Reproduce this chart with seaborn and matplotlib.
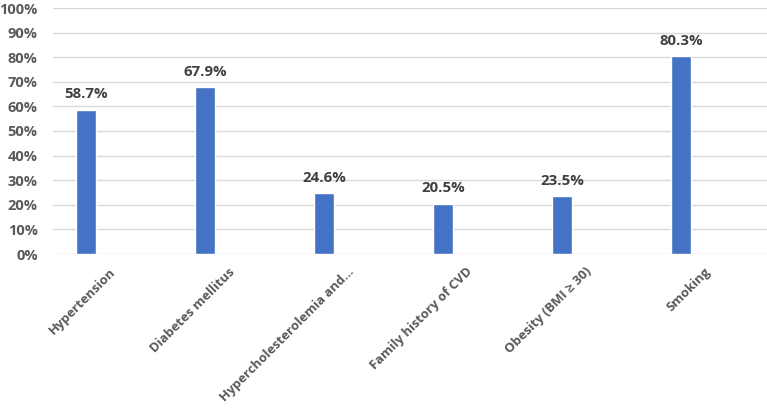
import matplotlib
matplotlib.use("Agg")
import matplotlib.pyplot as plt
import matplotlib.transforms as mtrans
import seaborn as sns
import pandas as pd
from matplotlib.ticker import MultipleLocator, PercentFormatter

categories = ["Hypertension", "Diabetes mellitus", "Hypercholesterolemia and...",
              "Family history of CVD", "Obesity (BMI \u2265 30)", "Smoking"]
values = [58.7, 67.9, 24.6, 20.5, 23.5, 80.3]
labels = ["58.7%", "67.9%", "24.6%", "20.5%", "23.5%", "80.3%"]

sns.set_theme(style="white")
plt.rcParams['font.family'] = ['Open Sans', 'DejaVu Sans']

df = pd.DataFrame({"cat": categories, "val": values})

fig = plt.figure(figsize=(7.67, 4.08), dpi=100)
ax = fig.add_axes([53/767, 1-254/408, (767-53)/767, (254-8)/408])
sns.barplot(data=df, x="cat", y="val", color="#4472C4", width=0.176, ax=ax, saturation=1)

ax.set_xlim(-(86-53)/119, (767-86)/119)
ax.set_ylim(0, 100)
ax.yaxis.set_major_locator(MultipleLocator(10))
ax.yaxis.set_major_formatter(PercentFormatter(decimals=0))
ax.grid(axis="y", color="#D9D9D9", linewidth=1)
ax.set_axisbelow(True)
for s in ax.spines.values():
    s.set_visible(False)
ax.tick_params(axis="both", length=0)
ax.set_xlabel("")
ax.set_ylabel("")

for t in ax.get_yticklabels():
    t.set_fontsize(10.5)
    t.set_fontweight("bold")
    t.set_color("#595959")
ax.tick_params(axis="y", pad=11)
ax.set_xticks(range(len(categories)))
ax.set_xticklabels(categories, rotation=45, ha="right", rotation_mode="anchor",
                   fontsize=9.4, fontweight="bold", color="#595959")
ax.tick_params(axis="x", pad=8)
shift = mtrans.ScaledTranslation(23/100, 0, fig.dpi_scale_trans)
for t in ax.get_xticklabels():
    t.set_transform(t.get_transform() + shift)

for i, (v, lab) in enumerate(zip(values, labels)):
    ax.annotate(lab, (i, v), xytext=(0, 6), textcoords="offset points",
                ha="center", va="bottom", fontsize=10.8, fontweight="bold", color="#404040")

fig.savefig("out.png", dpi=100)
